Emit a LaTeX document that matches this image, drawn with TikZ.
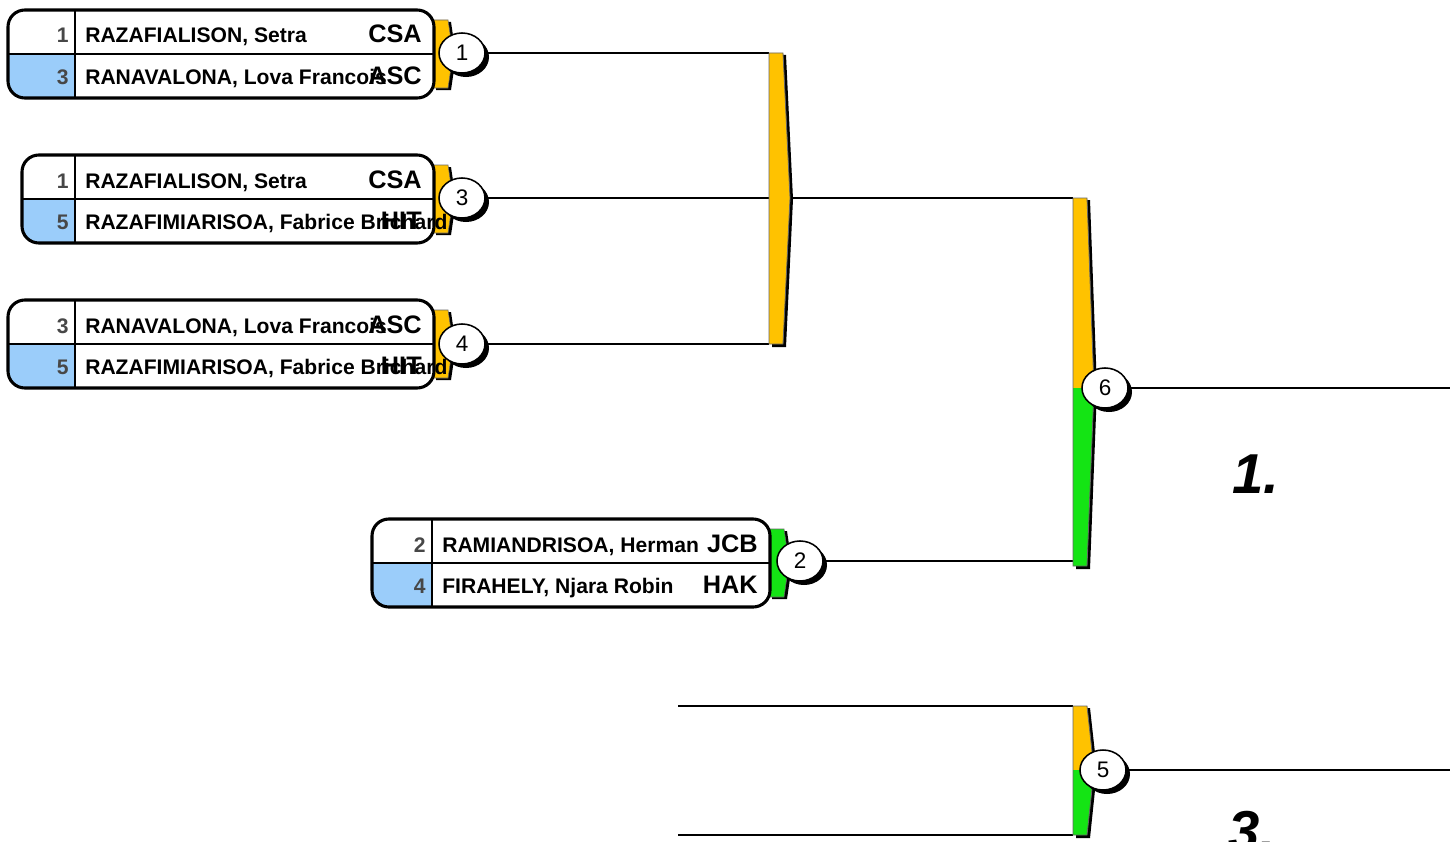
\documentclass[tikz,border=0pt]{standalone}
\usepackage{fontspec}
\setmainfont{Liberation Sans}
\usetikzlibrary{shapes.geometric}
\usetikzlibrary{shadows}
\definecolor{barorange}{RGB}{255,194,0}
\definecolor{bargreen}{RGB}{20,228,20}
\definecolor{seedblue}{RGB}{155,205,250}
\colorlet{seedgray}{black!72}

\begin{document}
\begin{tikzpicture}[x=0.025cm, y=-0.025cm,
    wire/.style={line width=1.5pt, black},
    matchno/.style={ellipse, draw, line width=1.1pt, fill=white, minimum width=1.15cm, minimum height=1cm, inner sep=0pt, font=\fontsize{16}{18}\selectfont, drop shadow={shadow xshift=0.1cm, shadow yshift=-0.1cm, opacity=1, fill=black}},
    seedno/.style={anchor=base east, inner sep=0pt, text=seedgray, font=\fontsize{15}{18}\selectfont\bfseries},
    player/.style={anchor=base west, inner sep=0pt, font=\fontsize{15}{18}\selectfont\bfseries},
    club/.style={anchor=base east, inner sep=0pt, font=\fontsize{18}{20}\selectfont\bfseries},
    place/.style={anchor=base, inner sep=0pt, font=\fontsize{40}{44}\selectfont\bfseries\itshape}]

    \useasboundingbox (0,0) rectangle (1450,841);
    \fill[white] (0,0) rectangle (1450,841);

    % match boxes
    \foreach \bx/\by/\dv/\rx/\tabcol in {8/10/75/434/barorange, 22/155/75/434/barorange, 8/300/75/434/barorange, 372/519/432/770/bargreen}{
        \fill[black] (\rx+2,\by+12) -- (\rx+17,\by+12) -- (\rx+22,\by+46) -- (\rx+17,\by+80) -- (\rx+2,\by+80) -- cycle;
        \filldraw[fill=\tabcol, draw=black!60] (\rx-2,\by+10) -- (\rx+14,\by+10) -- (\rx+19,\by+44) -- (\rx+14,\by+78) -- (\rx-2,\by+78) -- cycle;
        \begin{scope}
            \clip[rounded corners=12] (\bx,\by) rectangle (\rx,\by+88);
            \fill[white] (\bx,\by) rectangle (\rx,\by+88);
            \fill[seedblue] (\bx,\by+44) rectangle (\dv,\by+88);
        \end{scope}
        \draw[line width=0.8pt] (\dv,\by) -- (\dv,\by+88);
        \draw[line width=0.8pt] (\bx,\by+44) -- (\rx,\by+44);
        \draw[line width=2.2pt, rounded corners=12] (\bx,\by) rectangle (\rx,\by+88);
    }

    \foreach \m/\dv/\rx/\by/\sd/\nm/\cl in {
        A1/75/434/43/1/{RAZAFIALISON, Setra}/CSA,
        A2/75/434/84/3/{RANAVALONA, Lova Francois}/ASC,
        B1/75/434/188/1/{RAZAFIALISON, Setra}/CSA,
        B2/75/434/229/5/{RAZAFIMIARISOA, Fabrice Brichard}/HIT,
        C1/75/434/333/3/{RANAVALONA, Lova Francois}/ASC,
        C2/75/434/374/5/{RAZAFIMIARISOA, Fabrice Brichard}/HIT,
        D1/432/770/552/2/{RAMIANDRISOA, Herman}/JCB,
        D2/432/770/593/4/{FIRAHELY, Njara Robin}/HAK}{
        \node[seedno] (s\m) at (\dv-6,\by) {\sd};
        \node[player] (p\m) at (\dv+10,\by) {\nm};
        \node[club] (k\m) at (\rx-12,\by) {\cl};
    }

    \node[matchno] (c1) at (462,53) {1};
    \node[matchno] (c3) at (462,198) {3};
    \node[matchno] (c4) at (462,344) {4};
    \node[matchno] (c2) at (800,561) {2};

    \coordinate (b1t) at (769,53);
    \coordinate (b1b) at (769,344);
    \coordinate (b2t) at (1073,198);
    \coordinate (b2b) at (1073,561);
    \coordinate (l5t) at (678,706);
    \coordinate (l5b) at (678,835);
    \coordinate (b3t) at (1073,706);
    \coordinate (b3b) at (1073,835);
    \coordinate (w6) at (1450,388);
    \coordinate (w5) at (1450,770);

    \draw[wire] (c1) -- (b1t);
    \draw[wire] (c4) -- (b1b);
    \draw[wire] (c3) -- (b2t);
    \draw[wire] (c2) -- (b2b);
    \draw[wire] (l5t) -- (b3t);
    \draw[wire] (l5b) -- (b3b);

    % bracket bars
    \foreach \bl/\bt/\bb/\bm/\cu/\cd in {769/53/344/198/barorange/barorange, 1073/198/566/388/barorange/bargreen, 1073/706/835/770/barorange/bargreen}{
        \fill[black] (\bl+3,\bt+2) -- (\bl+17,\bt+2) -- (\bl+24,\bm+1) -- (\bl+17,\bb+3) -- (\bl+3,\bb+3) -- cycle;
        \fill[\cu] (\bl,\bt) -- (\bl+14,\bt) -- (\bl+21,\bm) -- (\bl,\bm) -- cycle;
        \fill[\cd] (\bl,\bm) -- (\bl+21,\bm) -- (\bl+14,\bb) -- (\bl,\bb) -- cycle;
        \draw[black!60, line width=0.6pt] (\bl,\bt) -- (\bl+14,\bt) -- (\bl+21,\bm) -- (\bl+14,\bb) -- (\bl,\bb) -- cycle;
    }

    \node[matchno] (c6) at (1105,388) {6};
    \node[matchno] (c5) at (1103,770) {5};
    \draw[wire] (c6) -- (w6);
    \draw[wire] (c5) -- (w5);

    \node[place] (r1) at (1256,493) {1.};
    \node[place] (r3) at (1252,850) {3.};

\end{tikzpicture}
\end{document}
